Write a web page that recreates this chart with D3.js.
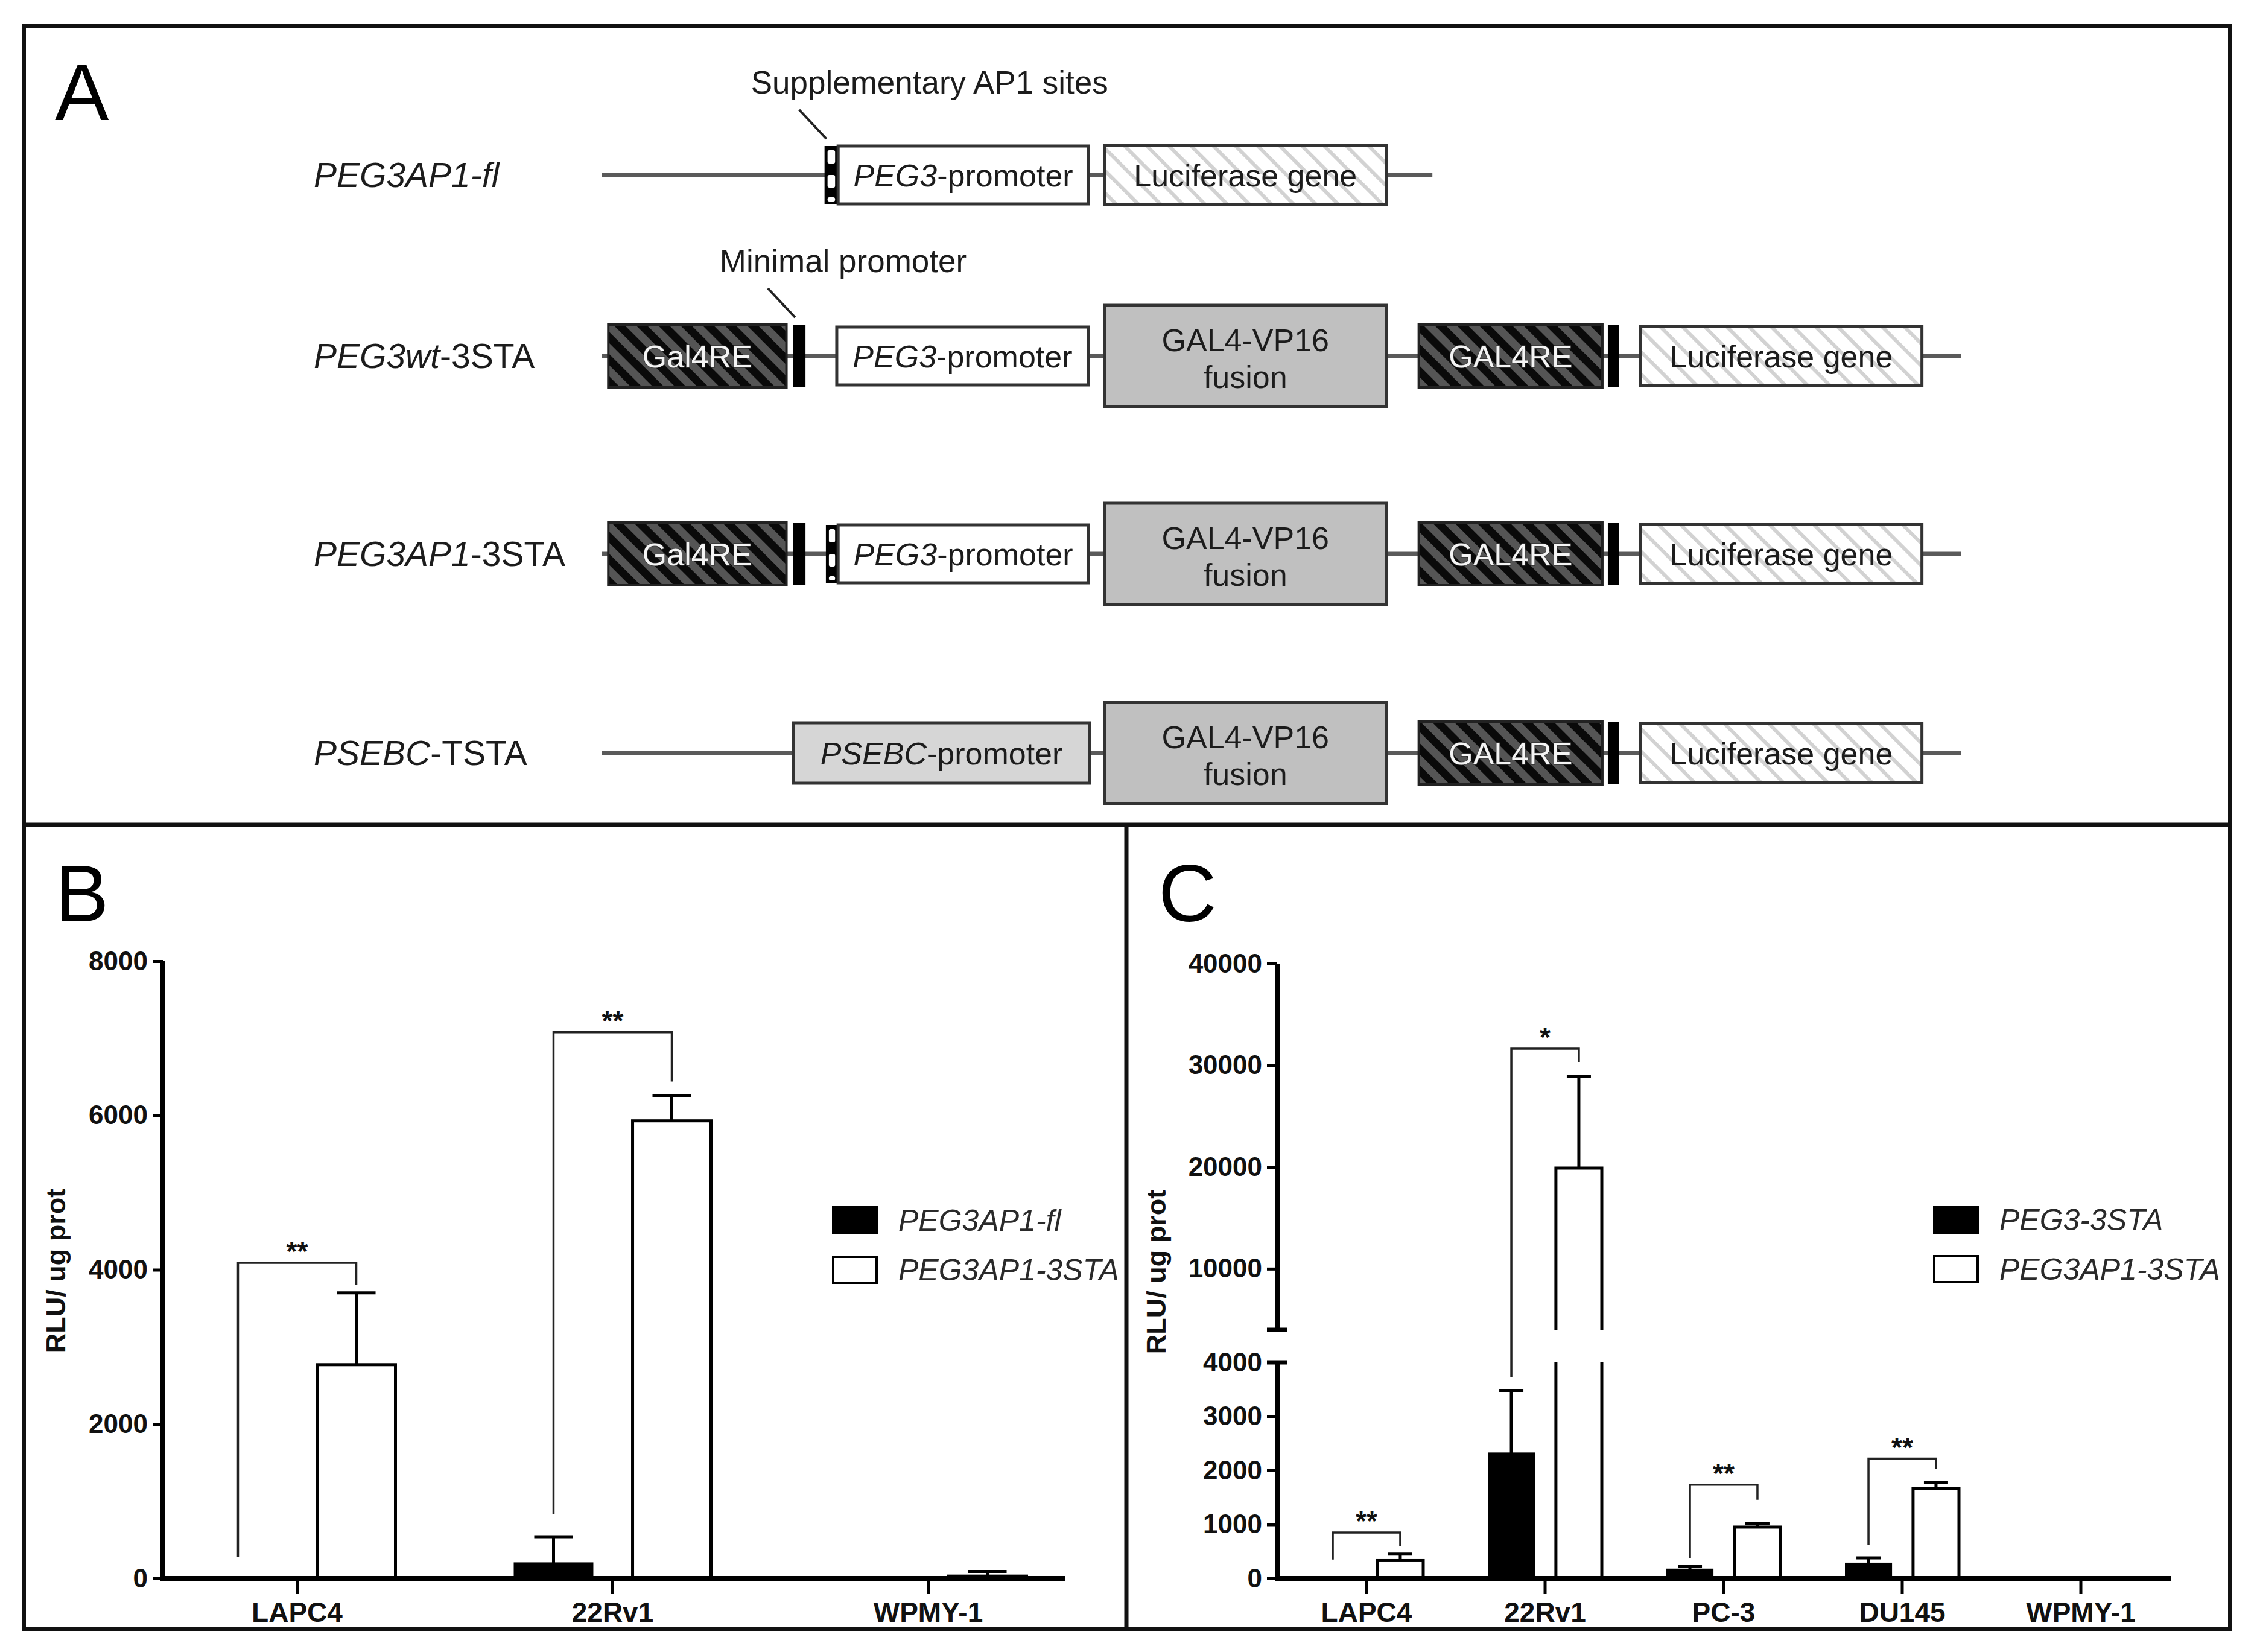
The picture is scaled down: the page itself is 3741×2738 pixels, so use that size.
<!DOCTYPE html>
<html>
<head>
<meta charset="utf-8">
<script src="https://cdn.jsdelivr.net/npm/d3@7"></script>
<style>
  body { margin: 0; background: #fff; }
  svg { display: block; font-family: 'Liberation Sans', Arial, Helvetica, sans-serif; }
</style>
</head>
<body>
<svg id="fig" width="3741" height="2738"></svg>
<script>
// ---------- panel A : constructs (schematic units 0..100 along the backbone) ----------
const constructs = ['PEG3AP1-fl', 'PEG3wt-3STA', 'PEG3AP1-3STA', 'PSEBC-TSTA'];
const constructLabels = [
  [['PEG3AP1-fl', true]],
  [['PEG3wt', true], ['-3STA', false]],
  [['PEG3AP1', true], ['-3STA', false]],
  [['PSEBC', true], ['-TSTA', false]]
];
const backboneEnd = [61.1, 100, 100, 100];
const constructParts = [
  [
    { kind: 'ap1', from: 16.4, to: 17.4 },
    { kind: 'promoter', from: 17.4, to: 35.8, text: [['PEG3', true], ['-promoter', false]] },
    { kind: 'luc', from: 37.0, to: 57.7, text: [['Luciferase gene', false]] }
  ],
  [
    { kind: 'gal4re', from: 0.5, to: 13.6, text: [['Gal4RE', false]] },
    { kind: 'bar', from: 14.1, to: 15.0 },
    { kind: 'promoter', from: 17.3, to: 35.8, text: [['PEG3', true], ['-promoter', false]] },
    { kind: 'fusion', from: 37.0, to: 57.7, text: ['GAL4-VP16', 'fusion'] },
    { kind: 'gal4re', from: 60.1, to: 73.6, text: [['GAL4RE', false]] },
    { kind: 'bar', from: 74.0, to: 74.8 },
    { kind: 'luc', from: 76.4, to: 97.1, text: [['Luciferase gene', false]] }
  ],
  [
    { kind: 'gal4re', from: 0.5, to: 13.6, text: [['Gal4RE', false]] },
    { kind: 'bar', from: 14.1, to: 15.0 },
    { kind: 'ap1', from: 16.5, to: 17.4 },
    { kind: 'promoter', from: 17.4, to: 35.8, text: [['PEG3', true], ['-promoter', false]] },
    { kind: 'fusion', from: 37.0, to: 57.7, text: ['GAL4-VP16', 'fusion'] },
    { kind: 'gal4re', from: 60.1, to: 73.6, text: [['GAL4RE', false]] },
    { kind: 'bar', from: 74.0, to: 74.8 },
    { kind: 'luc', from: 76.4, to: 97.1, text: [['Luciferase gene', false]] }
  ],
  [
    { kind: 'psebc', from: 14.1, to: 35.9, text: [['PSEBC', true], ['-promoter', false]] },
    { kind: 'fusion', from: 37.0, to: 57.7, text: ['GAL4-VP16', 'fusion'] },
    { kind: 'gal4re', from: 60.1, to: 73.6, text: [['GAL4RE', false]] },
    { kind: 'bar', from: 74.0, to: 74.8 },
    { kind: 'luc', from: 76.4, to: 97.1, text: [['Luciferase gene', false]] }
  ]
];
const annotations = [
  { row: 0, part: 0, text: 'Supplementary AP1 sites' },
  { row: 1, part: 1, text: 'Minimal promoter' }
];

// ---------- panel B ----------
const cellsB = ['LAPC4', '22Rv1', 'WPMY-1'];
const seriesB = ['PEG3AP1-fl', 'PEG3AP1-3STA'];
const meanB_fl = [20, 200, 5];
const semB_fl = [0, 340, 0];
const meanB_3sta = [2770, 5930, 30];
const semB_3sta = [930, 330, 60];
const ticksB = [0, 2000, 4000, 6000, 8000];
const bracketsB = [
  { cell: 'LAPC4', left: 280, top: 4090, right: 3800, mark: '**' },
  { cell: '22Rv1', left: 830, top: 7080, right: 6440, mark: '**' }
];

// ---------- panel C ----------
const cellsC = ['LAPC4', '22Rv1', 'PC-3', 'DU145', 'WPMY-1'];
const seriesC = ['PEG3-3STA', 'PEG3AP1-3STA'];
const meanC_3sta = [20, 2320, 170, 280, 10];
const semC_3sta = [0, 1160, 50, 100, 0];
const meanC_ap1 = [330, 19900, 950, 1660, 10];
const semC_ap1 = [120, 9000, 60, 120, 0];
const ticksC_low = [0, 1000, 2000, 3000, 4000];
const ticksC_high = [10000, 20000, 30000, 40000];
const breakAt = 4000;
const bracketsC = [
  { cell: 'LAPC4', left: 350, top: 850, right: 600, mark: '**' },
  { cell: '22Rv1', left: 3730, top: 31640, right: 30330, mark: '*' },
  { cell: 'PC-3', left: 380, top: 1735, right: 1455, mark: '**' },
  { cell: 'DU145', left: 627, top: 2217, right: 2027, mark: '**' }
];

// ------------------------------------------------------------------
const ink = '#1c1c1c';
const svg = d3.select('#fig');
const defs = svg.append('defs');

const pd = defs.append('pattern').attr('id', 'hatchDark')
  .attr('patternUnits', 'userSpaceOnUse').attr('width', 26).attr('height', 26)
  .attr('patternTransform', 'rotate(-45)');
pd.append('rect').attr('width', 26).attr('height', 26).attr('fill', '#555');
pd.append('rect').attr('width', 13).attr('height', 26).attr('fill', '#0a0a0a');

const pl = defs.append('pattern').attr('id', 'hatchLight')
  .attr('patternUnits', 'userSpaceOnUse').attr('width', 26).attr('height', 26)
  .attr('patternTransform', 'rotate(-45)');
pl.append('rect').attr('width', 26).attr('height', 26).attr('fill', '#fff');
pl.append('rect').attr('width', 6).attr('height', 26).attr('fill', '#d2d2d2');

function richText(sel, x, y, parts, size, anchor, fill) {
  const t = sel.append('text').attr('x', x).attr('y', y)
    .attr('font-size', size).attr('text-anchor', anchor || 'start').attr('fill', fill || ink);
  parts.forEach(([s, it]) => t.append('tspan').text(s).attr('font-style', it ? 'italic' : 'normal'));
  return t;
}

// frame
svg.append('rect').attr('x', 40).attr('y', 43).attr('width', 3656).attr('height', 2657)
  .attr('fill', 'none').attr('stroke', '#111').attr('stroke-width', 6);
svg.append('line').attr('x1', 40).attr('x2', 3696).attr('y1', 1367).attr('y2', 1367)
  .attr('stroke', '#111').attr('stroke-width', 7);
svg.append('line').attr('x1', 1867).attr('x2', 1867).attr('y1', 1367).attr('y2', 2700)
  .attr('stroke', '#111').attr('stroke-width', 7);

// panel letters
[['A', 91, 199], ['B', 91, 1527], ['C', 1920, 1527]].forEach(([l, x, y]) => {
  svg.append('text').attr('x', x).attr('y', y).attr('font-size', 134).attr('fill', '#000').text(l);
});

// ---------- draw panel A ----------
const xs = d3.scaleLinear().domain([0, 100]).range([997, 3251]);
const rowY = [290, 590, 918, 1248];
const half = { gal4re: 52, bar: 52, ap1: 48, promoter: 48, psebc: 50, fusion: 84, luc: 49 };
const gA = svg.append('g');

constructs.forEach((name, r) => {
  const y = rowY[r];
  richText(gA, 520, y + 20, constructLabels[r], 57);
  gA.append('line').attr('x1', xs(0)).attr('x2', xs(backboneEnd[r]))
    .attr('y1', y).attr('y2', y).attr('stroke', '#5a5a5a').attr('stroke-width', 7);

  constructParts[r].forEach(p => {
    const x0 = xs(p.from), x1 = xs(p.to), h = half[p.kind], cx = (x0 + x1) / 2;
    const rect = gA.append('rect').attr('x', x0).attr('y', y - h)
      .attr('width', x1 - x0).attr('height', 2 * h);
    if (p.kind === 'gal4re') {
      rect.attr('fill', 'url(#hatchDark)').attr('stroke', '#222').attr('stroke-width', 4);
      richText(gA, cx, y + 19, p.text, 52, 'middle', '#f4f4f4')
        .attr('stroke', '#333').attr('stroke-width', 1.5).attr('paint-order', 'stroke');
    } else if (p.kind === 'bar') {
      rect.attr('fill', '#000');
    } else if (p.kind === 'ap1') {
      rect.attr('fill', '#000');
      [[-41, -19], [0, 21], [37, 44]].forEach(([a, b]) => {
        gA.append('rect').attr('x', x0 + 5).attr('width', x1 - x0 - 10)
          .attr('y', y + a).attr('height', b - a).attr('rx', 3).attr('fill', '#fff');
      });
    } else if (p.kind === 'promoter' || p.kind === 'psebc' || p.kind === 'luc') {
      rect.attr('fill', p.kind === 'promoter' ? '#fff' : p.kind === 'psebc' ? '#d6d6d6' : 'url(#hatchLight)')
        .attr('stroke', '#333').attr('stroke-width', 5);
      richText(gA, cx, y + 19, p.text, 52, 'middle');
    } else if (p.kind === 'fusion') {
      rect.attr('fill', '#c0c0c0').attr('stroke', '#333').attr('stroke-width', 5);
      gA.append('text').attr('x', cx).attr('y', y - 8).attr('text-anchor', 'middle')
        .attr('font-size', 52).attr('fill', ink).text(p.text[0]);
      gA.append('text').attr('x', cx).attr('y', y + 53).attr('text-anchor', 'middle')
        .attr('font-size', 52).attr('fill', ink).text(p.text[1]);
    }
  });
});

annotations.forEach(a => {
  const p = constructParts[a.row][a.part];
  const ex = xs(p.from) + 3, ey = rowY[a.row] - half[p.kind] - 12;
  const sx = ex - 45, sy = ey - 48;
  gA.append('line').attr('x1', sx).attr('y1', sy).attr('x2', ex).attr('y2', ey)
    .attr('stroke', '#222').attr('stroke-width', 4);
  gA.append('text').attr('x', sx - 80).attr('y', sy - 27).attr('font-size', 53)
    .attr('fill', ink).text(a.text);
});

// ---------- shared bar chart helpers ----------
function styleAxis(g, size) {
  g.attr('font-family', null).attr('font-size', size).attr('font-weight', 'bold');
  g.select('.domain').remove();
  g.selectAll('.tick line').attr('stroke', '#000').attr('stroke-width', 5);
  g.selectAll('.tick text').attr('fill', '#111');
}

function legend(g, x, y, names) {
  names.forEach((n, i) => {
    g.append('rect').attr('x', x).attr('y', y + i * 82).attr('width', 72).attr('height', 43)
      .attr('fill', i === 0 ? '#000' : '#fff').attr('stroke', '#000').attr('stroke-width', 4);
    g.append('text').attr('x', x + 108).attr('y', y + i * 82 + 39).attr('font-size', 50)
      .attr('font-style', 'italic').attr('fill', '#2a2a2a').text(n);
  });
}

function yTitle(g, x, y) {
  g.append('text').attr('transform', `translate(${x},${y}) rotate(-90)`)
    .attr('text-anchor', 'middle').attr('font-size', 45).attr('font-weight', 'bold')
    .attr('fill', '#111').text('RLU/ ug prot');
}

function drawBrackets(g, list, x0, x1, series, y) {
  list.forEach(b => {
    const lx = x0(b.cell) + x1(series[0]) + x1.bandwidth() / 2;
    const rx = x0(b.cell) + x1(series[1]) + x1.bandwidth() / 2;
    g.append('path')
      .attr('d', `M${lx},${y(b.left)}V${y(b.top)}H${rx}V${y(b.right)}`)
      .attr('fill', 'none').attr('stroke', '#222').attr('stroke-width', 3.5);
    g.append('text').attr('x', (lx + rx) / 2).attr('y', y(b.top) - 3)
      .attr('text-anchor', 'middle').attr('font-size', 46).attr('font-weight', 'bold')
      .attr('fill', '#111').text(b.mark);
  });
}

function drawErrors(g, data, x0, x1, y, cap) {
  data.filter(d => d.sem > 0).forEach(d => {
    const cx = x0(d.cell) + x1(d.series) + x1.bandwidth() / 2;
    g.append('line').attr('x1', cx).attr('x2', cx).attr('y1', y(d.mean)).attr('y2', y(d.mean + d.sem))
      .attr('stroke', '#000').attr('stroke-width', 5);
    g.append('line').attr('x1', cx - cap / 2).attr('x2', cx + cap / 2)
      .attr('y1', y(d.mean + d.sem)).attr('y2', y(d.mean + d.sem))
      .attr('stroke', '#000').attr('stroke-width', 5);
  });
}

// ---------- draw panel B ----------
const gB = svg.append('g');
const yB = d3.scaleLinear().domain([0, 8000]).range([2616, 1593]);
const x0B = d3.scaleBand().domain(cellsB).range([231, 1800]);
const x1B = d3.scaleBand().domain(seriesB).range([98.5, 424.5]).paddingInner(0.337);
const meansB = [meanB_fl, meanB_3sta], semsB = [semB_fl, semB_3sta];
const dataB = cellsB.flatMap((c, j) => seriesB.map((s, i) =>
  ({ cell: c, series: s, mean: meansB[i][j], sem: semsB[i][j], filled: i === 0 })));

gB.selectAll('rect.bar').data(dataB).join('rect').attr('class', 'bar')
  .attr('x', d => x0B(d.cell) + x1B(d.series))
  .attr('width', x1B.bandwidth())
  .attr('y', d => yB(d.mean))
  .attr('height', d => yB(0) - yB(d.mean))
  .attr('fill', d => d.filled ? '#000' : '#fff')
  .attr('stroke', '#000').attr('stroke-width', d => d.filled ? 2 : 5);
drawErrors(gB, dataB, x0B, x1B, yB, 64);
drawBrackets(gB, bracketsB, x0B, x1B, seriesB, yB);

const axYB = gB.append('g').attr('transform', 'translate(270,0)')
  .call(d3.axisLeft(yB).tickValues(ticksB).tickSize(17).tickPadding(8).tickFormat(d3.format('d')));
styleAxis(axYB, 44);
const axXB = gB.append('g').attr('transform', `translate(0,${yB(0)})`)
  .call(d3.axisBottom(x0B).tickSize(26).tickPadding(13));
styleAxis(axXB, 46);
gB.append('line').attr('x1', 270).attr('x2', 270).attr('y1', yB(8000)).attr('y2', yB(0) + 4)
  .attr('stroke', '#000').attr('stroke-width', 8);
gB.append('line').attr('x1', 266).attr('x2', 1766).attr('y1', yB(0)).attr('y2', yB(0))
  .attr('stroke', '#000').attr('stroke-width', 8);
yTitle(gB, 108, 2106);
legend(gB, 1381, 2001, seriesB.map(s => s));

// ---------- draw panel C ----------
const gC = svg.append('g');
const axisXC = 2117;
const yLo = d3.scaleLinear().domain([0, breakAt]).range([2616, 2258]);
const yHi = d3.scaleLinear().domain([breakAt, 40000]).range([2204, 1597]);
const yC = v => v <= breakAt ? yLo(v) : yHi(v);
const x0C = d3.scaleBand().domain(cellsC).range([axisXC, 3597]);
const x1C = d3.scaleBand().domain(seriesC).range([54, 242]).paddingInner(0.32);
const meansC = [meanC_3sta, meanC_ap1], semsC = [semC_3sta, semC_ap1];
const dataC = cellsC.flatMap((c, j) => seriesC.map((s, i) =>
  ({ cell: c, series: s, mean: meansC[i][j], sem: semsC[i][j], filled: i === 0 })));

dataC.forEach(d => {
  const bx = x0C(d.cell) + x1C(d.series), bw = x1C.bandwidth();
  if (d.mean <= breakAt) {
    gC.append('rect').attr('x', bx).attr('width', bw)
      .attr('y', yLo(d.mean)).attr('height', yLo(0) - yLo(d.mean))
      .attr('fill', d.filled ? '#000' : '#fff')
      .attr('stroke', '#000').attr('stroke-width', d.filled ? 2 : 5);
  } else {
    // broken bar: lower piece up to the break, upper piece from the break
    gC.append('path')
      .attr('d', `M${bx},${yLo(0)}V${yLo(breakAt)}M${bx + bw},${yLo(breakAt)}V${yLo(0)}`)
      .attr('fill', 'none').attr('stroke', '#000').attr('stroke-width', 5);
    gC.append('path')
      .attr('d', `M${bx},${yHi(breakAt)}V${yHi(d.mean)}H${bx + bw}V${yHi(breakAt)}`)
      .attr('fill', d.filled ? '#000' : 'none').attr('stroke', '#000').attr('stroke-width', 5);
  }
});
drawErrors(gC, dataC, x0C, x1C, yC, 40);
drawBrackets(gC, bracketsC, x0C, x1C, seriesC, yC);

const axYCl = gC.append('g').attr('transform', `translate(${axisXC},0)`)
  .call(d3.axisLeft(yLo).tickValues(ticksC_low).tickSize(17).tickPadding(8).tickFormat(d3.format('d')));
styleAxis(axYCl, 44);
const axYCh = gC.append('g').attr('transform', `translate(${axisXC},0)`)
  .call(d3.axisLeft(yHi).tickValues(ticksC_high).tickSize(17).tickPadding(8).tickFormat(d3.format('d')));
styleAxis(axYCh, 44);
const axXC = gC.append('g').attr('transform', `translate(0,${yLo(0)})`)
  .call(d3.axisBottom(x0C).tickSize(26).tickPadding(13));
styleAxis(axXC, 46);
gC.append('line').attr('x1', axisXC).attr('x2', axisXC).attr('y1', yHi(40000)).attr('y2', yHi(breakAt))
  .attr('stroke', '#000').attr('stroke-width', 8);
gC.append('line').attr('x1', axisXC).attr('x2', axisXC).attr('y1', yLo(breakAt)).attr('y2', yLo(0) + 4)
  .attr('stroke', '#000').attr('stroke-width', 8);
[yHi(breakAt), yLo(breakAt)].forEach(yy => {
  gC.append('line').attr('x1', axisXC - 17).attr('x2', axisXC + 17).attr('y1', yy).attr('y2', yy)
    .attr('stroke', '#000').attr('stroke-width', 7);
});
gC.append('line').attr('x1', axisXC - 4).attr('x2', 3599).attr('y1', yLo(0)).attr('y2', yLo(0))
  .attr('stroke', '#000').attr('stroke-width', 8);
yTitle(gC, 1932, 2108);
legend(gC, 3206, 2000, seriesC);
</script>
</body>
</html>
